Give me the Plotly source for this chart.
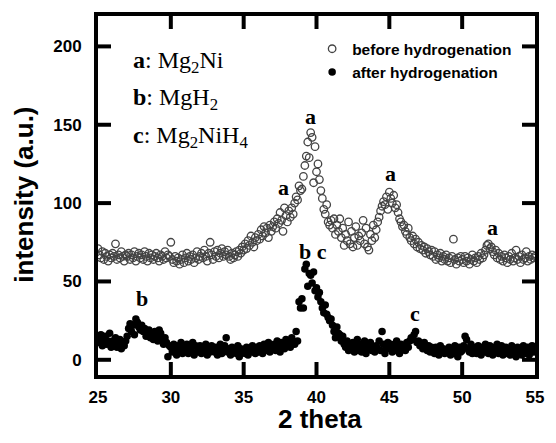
import numpy as np
import plotly.graph_objects as go

# 2-theta scan grid (step 0.1 deg)
two_theta = np.round(np.arange(25.0, 55.05, 0.1), 1)

before_hydrogenation = [
    71, 67, 65, 69, 64, 68, 66, 63, 67, 65,
    68, 66, 74, 64, 67, 65, 69, 66, 63, 67,
    66, 68, 64, 67, 65, 69, 63, 66, 68, 65,
    67, 64, 69, 66, 63, 68, 65, 67, 64, 66,
    68, 65, 63, 67, 66, 64, 69, 65, 67, 66,
    75, 64, 62, 66, 63, 65, 61, 64, 67, 62,
    65, 68, 63, 66, 64, 67, 62, 65, 69, 64,
    66, 68, 65, 70, 66, 63, 68, 75, 67, 64,
    69, 66, 70, 65, 68, 71, 66, 69, 67, 70,
    66, 64, 68, 65, 67, 69, 66, 70, 68, 72,
    70, 74, 71, 76, 73, 79, 75, 72, 78, 76,
    80, 77, 83, 79, 85, 81, 84, 78, 86, 82,
    85, 88, 84, 90, 87, 94, 89, 82, 97, 92,
    88, 95, 91, 97, 93, 100, 104, 102, 111, 108,
    109, 117, 124, 130, 139, 129, 145, 142, 113, 136,
    120, 125, 115, 108, 103, 96, 93, 99, 88, 86,
    89, 84, 90, 80, 86, 82, 90, 78, 84, 73,
    80, 76, 88, 74, 82, 72, 78, 85, 73, 79,
    76, 81, 89, 74, 84, 72, 70, 80, 76, 86,
    78, 83, 88, 91, 95, 98, 101, 99, 104, 96,
    107, 103, 100, 105, 97, 99, 94, 90, 88, 85,
    86, 82, 80, 84, 78, 76, 79, 74, 77, 72,
    75, 71, 73, 70, 72, 68, 71, 69, 67, 70,
    66, 69, 64, 67, 65, 68, 63, 66, 64, 67,
    63, 65, 62, 66, 77, 64, 61, 65, 63, 66,
    64, 62, 66, 63, 65, 61, 64, 67, 63, 65,
    62, 66, 64, 68, 65, 67, 70, 73, 74, 71,
    72, 69, 67, 70, 65, 68, 64, 66, 63, 67,
    65, 62, 66, 64, 68, 63, 65, 70, 64, 66,
    62, 67, 64, 65, 69, 63, 66, 64, 67, 65,
    66,
]

after_hydrogenation = [
    14, 11, 16, 9, 13, 15, 10, 12, 17, 8,
    12, 10, 14, 8, 11, 13, 7, 10, 9, 12,
    15, 20, 23, 18, 22, 16, 26, 24, 21, 19,
    22, 18, 20, 15, 17, 19, 14, 16, 13, 18,
    15, 12, 19, 17, 13, 10, 14, 11, 2, 9,
    8, 5, 10, 7, 3, 9, 6, 11, 4, 8,
    7, 10, 4, 8, 6, 11, 3, 9, 5, 7,
    9, 4, 8, 6, 10, 3, 7, 5, 9, 6,
    5, 8, 3, 7, 10, 4, 6, 9, 14, 5,
    7, 3, 8, 5, 6, 4, 9, 2, 7, 5,
    6, 4, 8, 3, 7, 5, 9, 6, 4, 8,
    5, 9, 7, 4, 10, 6, 8, 11, 5, 9,
    7, 10, 6, 12, 8, 5, 11, 9, 7, 13,
    9, 12, 8, 14, 11, 10, 18, 12, 37, 33,
    39, 33, 58, 61, 47, 55, 54, 49, 56, 44,
    46, 40, 43, 37, 33, 30, 35, 29, 27, 25,
    26, 22, 18, 14, 21, 17, 16, 12, 15, 10,
    8, 12, 6, 10, 7, 11, 5, 9, 13, 6,
    10, 5, 8, 12, 4, 9, 7, 11, 6, 8,
    5, 9, 7, 12, 6, 18, 10, 4, 8, 11,
    7, 10, 5, 9, 6, 12, 8, 4, 10, 7,
    9, 6, 11, 8, 12, 14, 13, 16, 18, 11,
    12, 9, 10, 7, 11, 8, 6, 9, 5, 8,
    7, 4, 8, 6, 3, 9, 5, 7, 4, 6,
    5, 8, 3, 7, 4, 9, 6, 2, 8, 5,
    6, 9, 15, 13, 7, 5, 10, 4, 8, 6,
    4, 9, 6, 3, 8, 5, 10, 7, 4, 9,
    6, 3, 8, 5, 10, 4, 7, 9, 3, 6,
    8, 4, 7, 3, 9, 5, 6, 2, 8, 4,
    7, 3, 9, 5, 4, 8, 3, 6, 9, 5,
    8,
]

series_names = ["before hydrogenation", "after hydrogenation"]

# peak labels: (2theta, intensity, letter)
peak_x = [37.7, 39.6, 45.1, 52.1, 28.0, 39.75, 46.75]
peak_y = [110, 155.5, 119, 84.6, 38.9, 69.4, 29.4]
peak_text = ["a", "a", "a", "a", "b", "b c", "c"]

phase_labels = ["<b>a</b>: Mg<sub>2</sub>Ni",
                "<b>b</b>: MgH<sub>2</sub>",
                "<b>c</b>: Mg<sub>2</sub>NiH<sub>4</sub>"]

x_ticks = [25, 30, 35, 40, 45, 50, 55]
y_ticks = [0, 50, 100, 150, 200]

X_RANGE = [25, 55]
Y_RANGE = [-9.7, 219.4]

SANS = "Liberation Sans, Arial, sans-serif"
SERIF = "Liberation Serif, Times New Roman, serif"

W, H = 556, 443
M = dict(l=98, r=12, t=13, b=68)

fig = go.Figure()
fig.add_trace(go.Scatter(
    x=two_theta, y=before_hydrogenation, mode="markers", name=series_names[0],
    marker=dict(symbol="circle-open", size=7.5, color="#444444",
                line=dict(width=1.3, color="#444444")),
))
fig.add_trace(go.Scatter(
    x=two_theta, y=after_hydrogenation, mode="markers", name=series_names[1],
    marker=dict(symbol="circle", size=7.5, color="black"),
))

# inward tick marks on all four sides, as pixel-sized shapes at the tick values
TL_PX, TW = 13, 4
tick_line = dict(color="black", width=TW)
for v in x_ticks[1:-1]:
    fig.add_shape(type="line", xref="x", yref="paper", x0=v, x1=v,
                  ysizemode="pixel", yanchor=0, y0=0, y1=TL_PX, line=tick_line, layer="above")
    fig.add_shape(type="line", xref="x", yref="paper", x0=v, x1=v,
                  ysizemode="pixel", yanchor=1, y0=0, y1=-TL_PX, line=tick_line, layer="above")
for v in y_ticks:
    fig.add_shape(type="line", xref="paper", yref="y", y0=v, y1=v,
                  xsizemode="pixel", xanchor=0, x0=0, x1=TL_PX, line=tick_line, layer="above")
    fig.add_shape(type="line", xref="paper", yref="y", y0=v, y1=v,
                  xsizemode="pixel", xanchor=1, x0=0, x1=-TL_PX, line=tick_line, layer="above")

for px, py, t in zip(peak_x, peak_y, peak_text):
    fig.add_annotation(x=px, y=py, text=t, showarrow=False,
                       xref="x", yref="y", xanchor="center", yanchor="middle",
                       font=dict(family=SERIF, size=22, color="black", weight="bold"))

for i, t in enumerate(phase_labels):
    fig.add_annotation(x=0.075, y=0.873 - i * 0.105, xref="paper", yref="paper", text=t,
                       showarrow=False, xanchor="left", yanchor="middle",
                       font=dict(family=SERIF, size=24, color="black"))

# axis titles
fig.add_annotation(x=0.507, y=-0.122, xref="paper", yref="paper", text="2 theta",
                   showarrow=False, xanchor="center", yanchor="middle",
                   font=dict(family=SANS, size=26, color="black", weight="bold"))
fig.add_annotation(x=-0.168, y=0.501, xref="paper", yref="paper", text="intensity (a.u.)",
                   showarrow=False, xanchor="center", yanchor="middle", textangle=-90,
                   font=dict(family=SANS, size=26, color="black", weight="bold"))

axis_common = dict(showline=True, linewidth=4, linecolor="black", mirror=True,
                   ticks="", tickmode="array",
                   showgrid=False, zeroline=False,
                   tickfont=dict(family=SANS, size=17, color="black", weight="bold"))

fig.update_layout(
    width=W, height=H,
    margin=M,
    paper_bgcolor="white", plot_bgcolor="white",
    showlegend=True,
    xaxis=dict(range=X_RANGE, tickvals=x_ticks, ticktext=[str(v) for v in x_ticks],
               ticklabelstandoff=4, **axis_common),
    yaxis=dict(range=Y_RANGE, tickvals=y_ticks, ticktext=[str(v) for v in y_ticks],
               ticklabelstandoff=9, **axis_common),
    legend=dict(x=0.49, y=0.955, xanchor="left", yanchor="top",
                bgcolor="rgba(0,0,0,0)", borderwidth=0,
                font=dict(family=SANS, size=15.5, color="black", weight="bold")),
)

fig.write_html("out.html")
